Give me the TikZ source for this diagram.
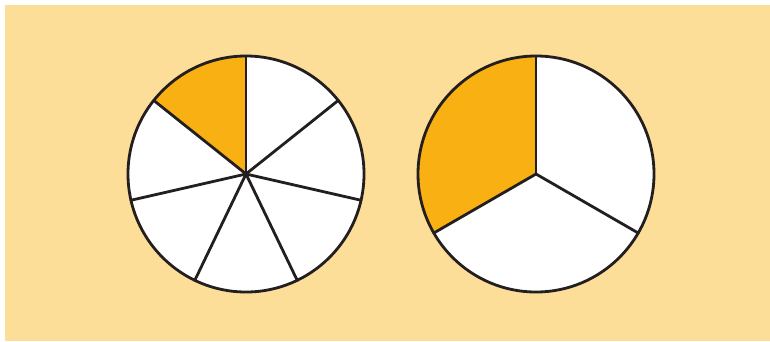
\documentclass[tikz,border=0pt]{standalone}
\definecolor{bg}{HTML}{FDDE98}
\definecolor{wedge}{HTML}{F9B012}
\definecolor{ink}{HTML}{231F20}
\begin{document}
\begin{tikzpicture}[x=1pt,y=-1pt,
  rim/.style={draw=ink,line width=2.8pt},
  spoke/.style={draw=ink,line width=2.8pt,line cap=round}]
\useasboundingbox (0,0) rectangle (770,341);
\fill[white] (0,0) rectangle (770,341);
\fill[bg] (5,5) rectangle (770,341);
% left pie: 7 parts
\coordinate (c1) at (246,174);
\fill[white] (c1) circle[radius=118];
\fill[wedge] (c1) -- ++(90:-118) arc[start angle=-90,end angle=-141.43,radius=118] -- cycle;
\foreach \k in {0,...,6}{
  \pgfmathsetmacro{\a}{-90-\k*360/7}
  \draw[spoke] (c1) -- ++(\a:118);
}
\draw[rim] (c1) circle[radius=118];
% right pie: 3 parts
\coordinate (c2) at (536,174);
\fill[white] (c2) circle[radius=118];
\fill[wedge] (c2) -- ++(-90:118) arc[start angle=-90,end angle=-210,radius=118] -- cycle;
\foreach \a in {-90,30,150}{
  \draw[spoke] (c2) -- ++(\a:118);
}
\draw[rim] (c2) circle[radius=118];
\end{tikzpicture}
\end{document}
